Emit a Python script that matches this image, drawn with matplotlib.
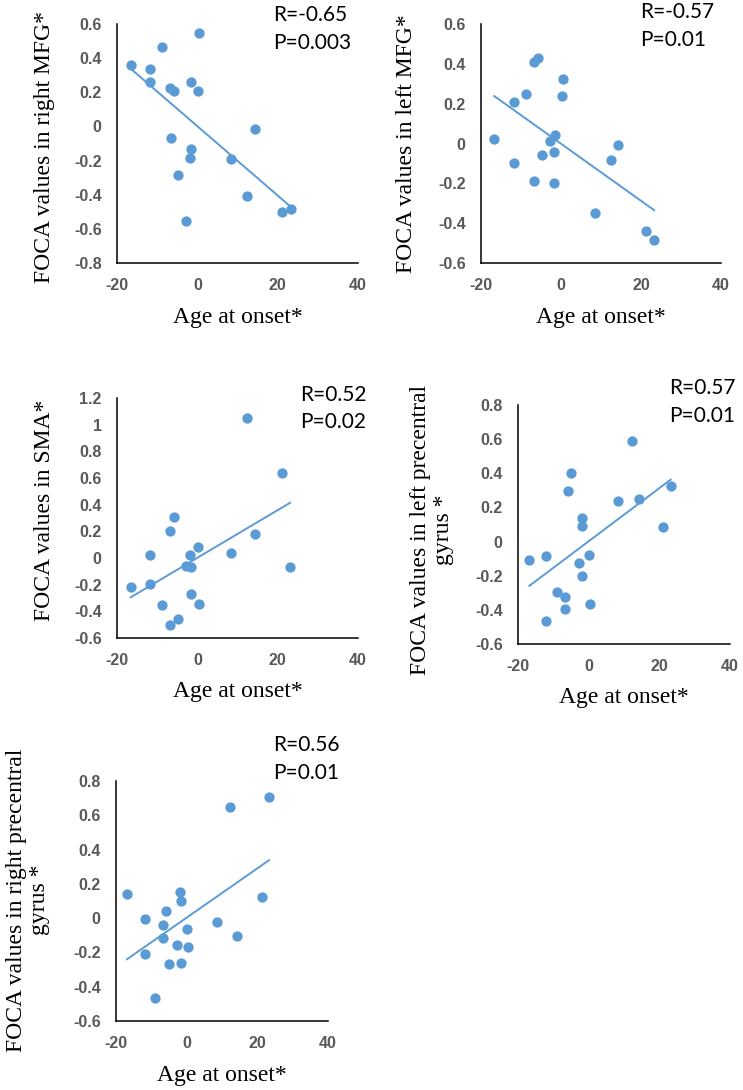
import numpy as np
import matplotlib
matplotlib.use("Agg")
import matplotlib.pyplot as plt
from matplotlib.ticker import FuncFormatter

plt.rcParams["axes.unicode_minus"] = False
BLUE = "#5B9BD5"
W, H = 743, 1090

# ages at onset (centred) and FOCA values
x_rmfg = [-16.6, -8.8, 0.3, -11.8, -11.8, -6.7, -5.9, -1.7, 0.2, 14.4,
          -6.6, -1.7, -1.9, 8.3, -4.8, 12.3, -2.7, 21.2, 23.2]
y_rmfg = [0.357, 0.468, 0.546, 0.335, 0.261, 0.228, 0.209, 0.261, 0.207, -0.016,
          -0.068, -0.133, -0.187, -0.189, -0.283, -0.407, -0.552, -0.501, -0.485]

x_lmfg = [-16.7, -11.75, -11.75, -8.7, -6.7, -5.8, -6.7, -4.75, -2.7, -1.6,
          -1.8, -1.7, 0.4, 0.2, 8.4, 12.4, 14.3, 21.3, 23.3]
y_lmfg = [0.025, 0.209, -0.10, 0.25, 0.41, 0.427, -0.189, -0.060, 0.015, 0.042,
          -0.044, -0.196, 0.323, 0.236, -0.347, -0.084, -0.010, -0.437, -0.486]

x_sma = [-16.6, -11.8, -11.8, -8.7, -6.7, -5.9, -6.7, -4.8, -2.7, -1.7,
         -1.9, -1.7, 0.25, 0.3, 8.3, 12.3, 14.4, 21.1, 23.1]
y_sma = [-0.215, 0.025, -0.193, -0.353, 0.205, 0.305, -0.503, -0.458, -0.063, -0.07,
         0.025, -0.27, 0.085, -0.348, 0.04, 1.05, 0.18, 0.635, -0.068]

x_lpre = [-16.8, -12.0, -12.0, -9.0, -6.8, -6.8, -5.85, -4.9, -2.8, -1.9,
          -1.8, -1.8, 0.0, 0.3, 8.2, 12.3, 14.15, 21.0, 23.2]
y_lpre = [-0.108, -0.084, -0.463, -0.297, -0.323, -0.393, 0.299, 0.401, -0.123, -0.201,
          0.141, 0.09, -0.08, -0.366, 0.237, 0.592, 0.252, 0.086, 0.323]

x_rpre = [-16.9, -11.9, -11.9, -8.9, -5.8, -6.7, -6.7, -4.9, -2.7, -1.75,
          -1.6, -1.6, 0.1, 0.3, 8.5, 12.4, 14.3, 21.2, 23.3]
y_rpre = [0.142, -0.004, -0.208, -0.468, 0.039, -0.039, -0.115, -0.266, -0.155, 0.155,
          0.101, -0.262, -0.062, -0.167, -0.023, 0.647, -0.107, 0.124, 0.705]

ylabels = ["FOCA values in right MFG*", "FOCA values in left MFG*",
           "FOCA values in SMA*", "FOCA values in left precentral\ngyrus *",
           "FOCA values in right precentral\ngyrus *"]
r_text = ["R=-0.65", "R=-0.57", "R=0.52", "R=0.57", "R=0.56"]
p_text = ["P=0.003", "P=0.01", "P=0.02", "P=0.01", "P=0.01"]
ylims = [(-0.8, 0.6), (-0.6, 0.6), (-0.6, 1.2), (-0.6, 0.8), (-0.6, 0.8)]

# axes boxes in pixels: left, right, top, bottom
boxes = [(117, 358, 24, 263), (481, 721, 24, 263), (117, 358, 398, 638),
         (518, 730, 405, 644), (116, 328, 781, 1021)]
ylab_pos = [(45, 147), (407, 144), (45, 510), (432, 530), (28, 900)]
xlab_y = [317, 317, 692, 697, 1075]
rp_pos = [(273, 15, 43), (640, 12, 40), (300, 395, 422), (669, 388, 416), (273, 745, 773)]

data = [(x_rmfg, y_rmfg), (x_lmfg, y_lmfg), (x_sma, y_sma), (x_lpre, y_lpre), (x_rpre, y_rpre)]

fig = plt.figure(figsize=(W / 100, H / 100), dpi=100)
fmt = FuncFormatter(lambda v, p: f"{round(v, 2) + 0.0:g}")

for i, (xs, ys) in enumerate(data):
    l, r, t, b = boxes[i]
    ax = fig.add_axes([l / W, 1 - b / H, (r - l) / W, (b - t) / H])
    ax.scatter(xs, ys, s=55, color=BLUE, zorder=3, linewidths=0)
    k, c = np.polyfit(xs, ys, 1)
    xx = np.array([min(xs), max(xs)])
    ax.plot(xx, k * xx + c, color=BLUE, lw=1.4, zorder=2)
    ax.set_xlim(-20, 40)
    ax.set_xticks([-20, 0, 20, 40])
    lo, hi = ylims[i]
    ax.set_ylim(lo, hi)
    ax.set_yticks(np.round(np.arange(lo, hi + 0.001, 0.2), 2))
    ax.yaxis.set_major_formatter(fmt)
    for s in ("top", "right"):
        ax.spines[s].set_visible(False)
    for s in ("left", "bottom"):
        ax.spines[s].set_linewidth(1.1)
        ax.spines[s].set_color("black")
    ax.tick_params(length=0, pad=11, labelsize=11.5, labelcolor="#595959")
    for lab in ax.get_xticklabels() + ax.get_yticklabels():
        lab.set_fontweight("bold")
        lab.set_family("Liberation Sans")
    ax.patch.set_alpha(0)

    yx, yy = ylab_pos[i]
    fig.text(yx / W, 1 - yy / H, ylabels[i], rotation=90, ha="center", va="center",
             family="Liberation Serif", fontsize=17, linespacing=1.15)
    fig.text((l + r) / 2 / W, 1 - xlab_y[i] / H, "Age at onset*", ha="center", va="center",
             family="Liberation Serif", fontsize=17)
    px, ry, py = rp_pos[i]
    fig.text(px / W, 1 - ry / H, r_text[i], ha="left", va="center", family="Lato", fontsize=15)
    fig.text(px / W, 1 - py / H, p_text[i], ha="left", va="center", family="Lato", fontsize=15)

fig.savefig("out.png", dpi=100)
